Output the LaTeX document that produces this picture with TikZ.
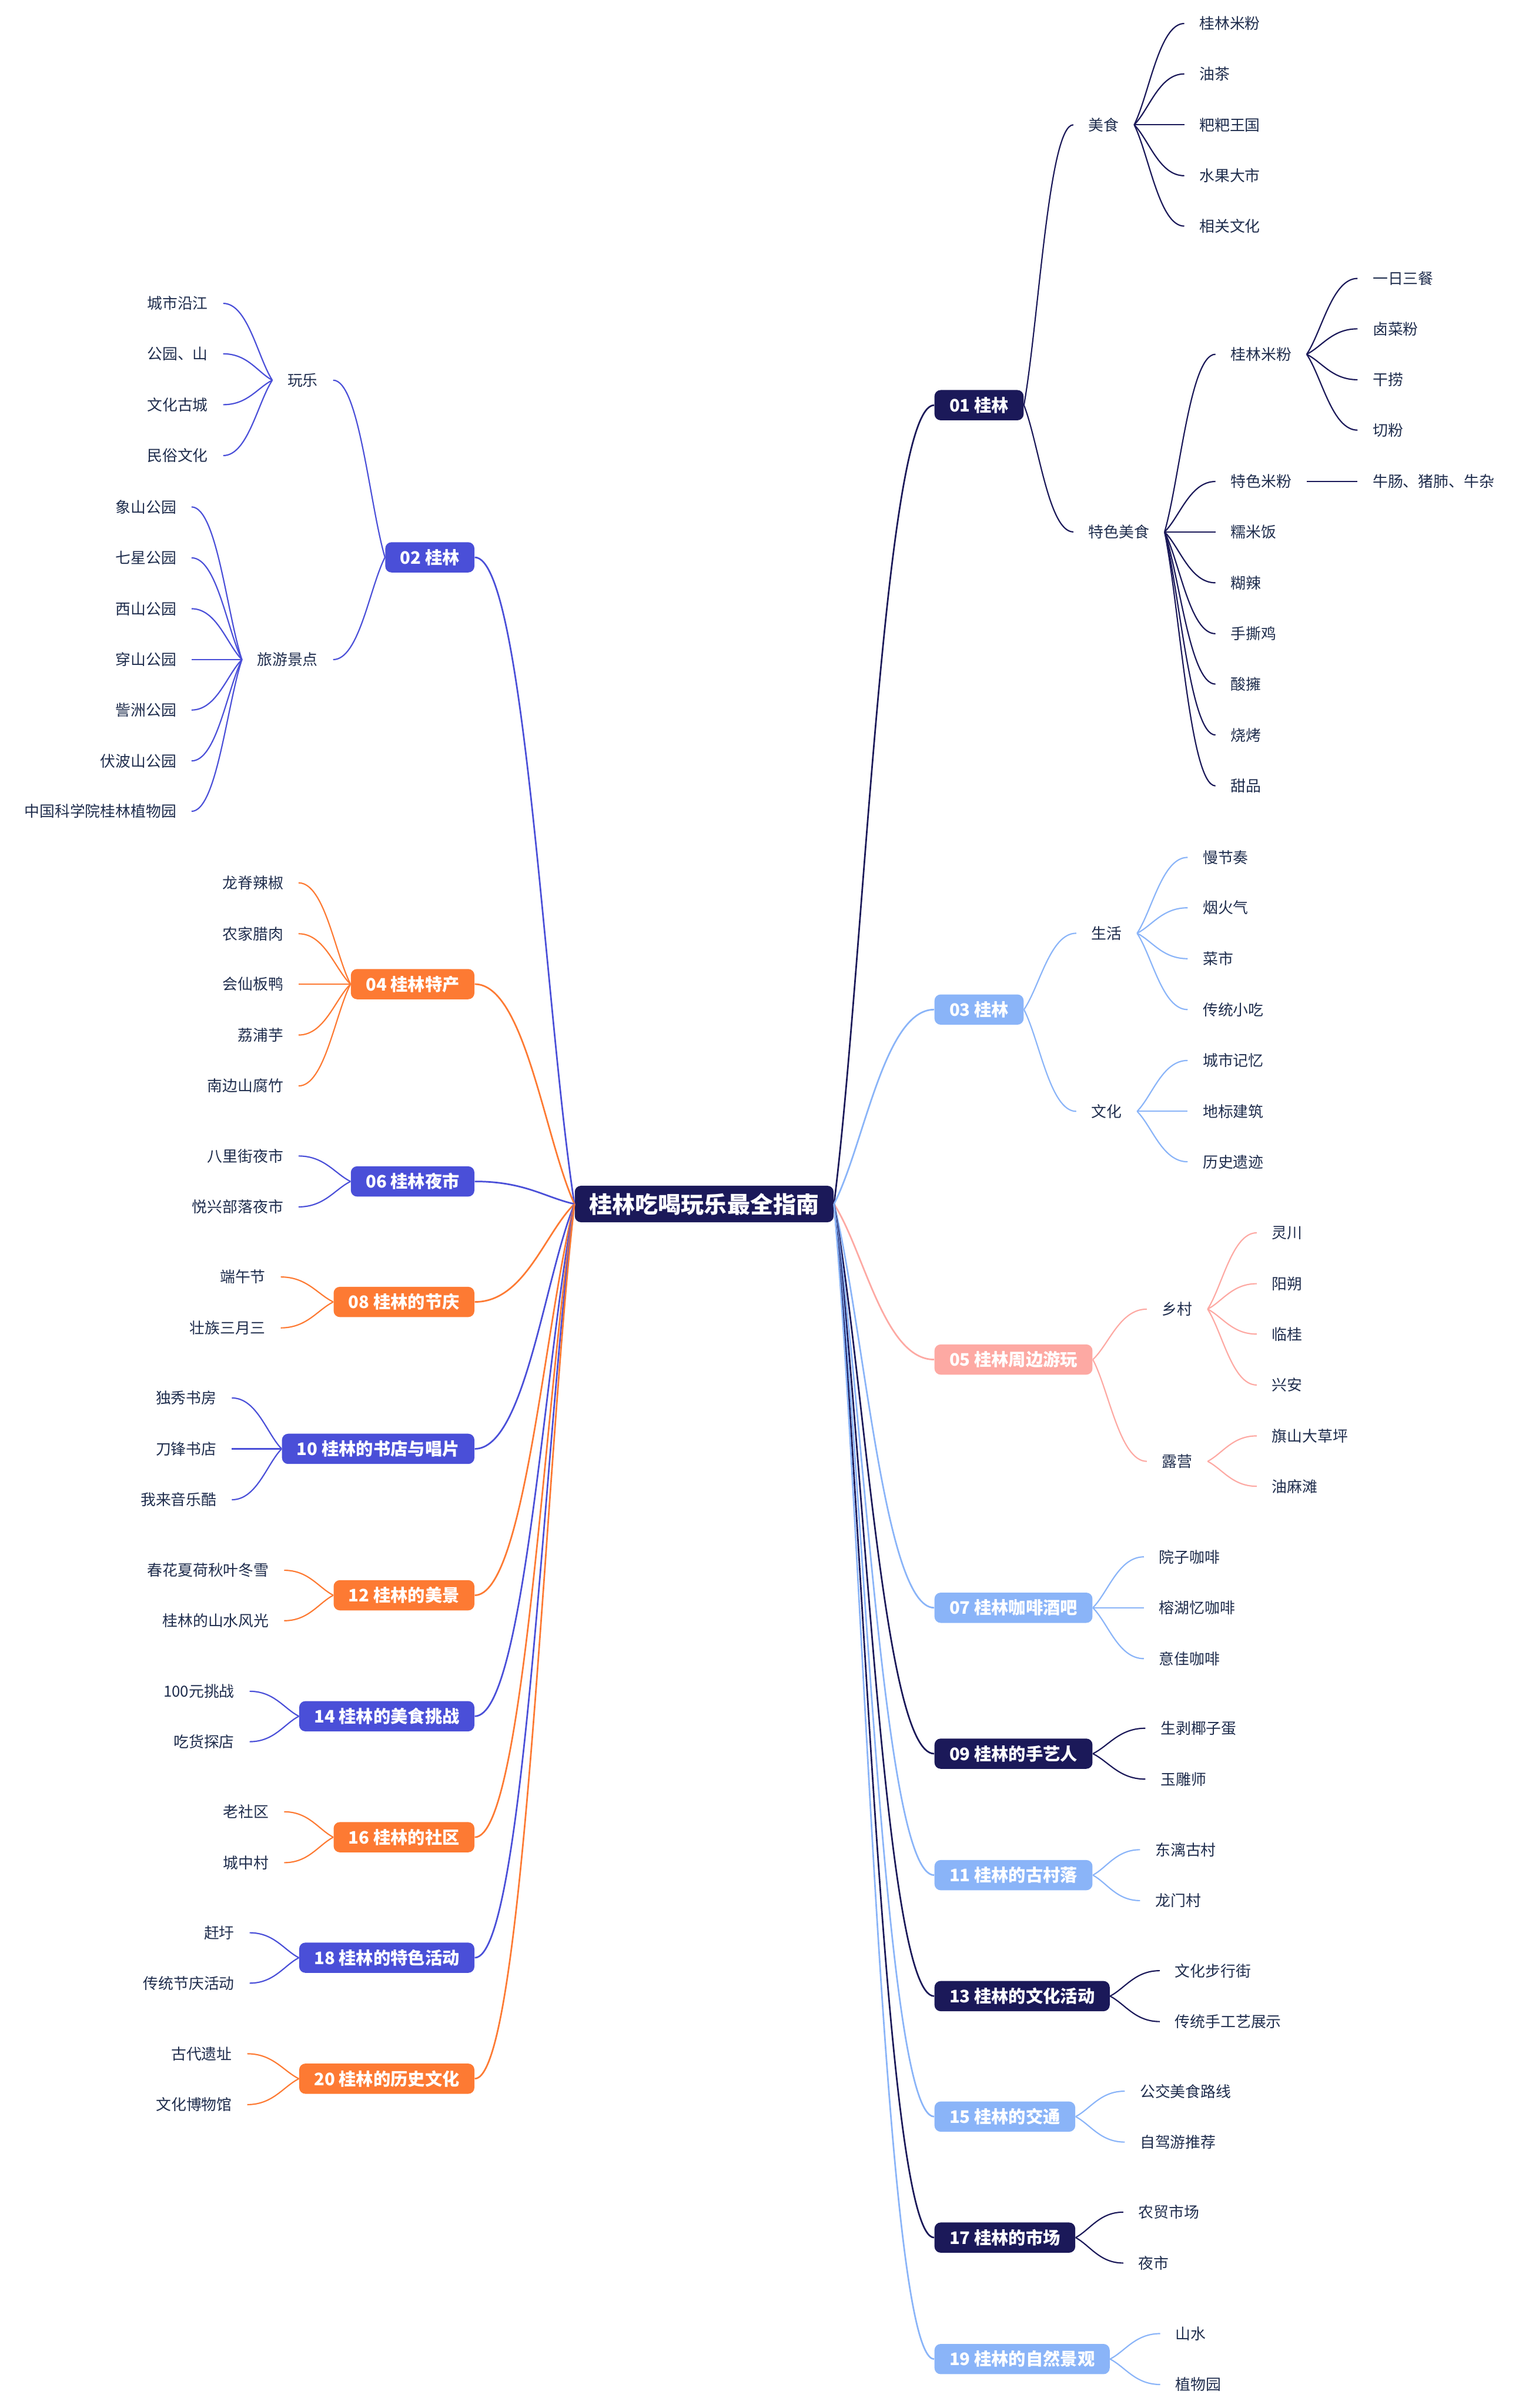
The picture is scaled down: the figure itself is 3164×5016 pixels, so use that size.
\documentclass[tikz,border=0pt]{standalone}
\usepackage{fontspec}
\setmainfont{Noto Sans CJK SC}
\usetikzlibrary{calc}
\definecolor{navy}{HTML}{1B1959}
\definecolor{royal}{HTML}{4A4FD8}
\definecolor{sky}{HTML}{8AB4F8}
\definecolor{salmon}{HTML}{FDA9A3}
\definecolor{tangerine}{HTML}{FD7A33}
\definecolor{ink}{HTML}{1F2D4D}
\tikzset{
    branch link/.style = {draw, line width=0.75pt, to path={let \p1 = (\tikztostart), \p2 = (\tikztotarget) in
        .. controls ({\x1+0.3*(\x2-\x1)}, {\y1+0.3*(\y2-\y1)}) and ({\x1+0.5*(\x2-\x1)}, \y2) .. (\tikztotarget)}},
    main link/.style = {branch link, line width=0.95pt},
}
\tikzset{
    central topic/.style = {rounded corners=0.13cm, fill=navy, text=white, font=\fontsize{13.6}{16}\selectfont\bfseries, minimum width=5.39cm, minimum height=0.76cm},
    topic/.style = {rounded corners=0.13cm, fill=#1, text=white, font=\fontsize{10.2}{12}\selectfont\bfseries, inner xsep=0.31cm, minimum height=0.63cm},
    leaf/.style = {text=ink, font=\fontsize{9}{11}\selectfont, inner xsep=0.31cm, inner ysep=0.04cm},
}

\begin{document}
\begin{tikzpicture}[x=0.01cm, y=-0.01cm]
    \useasboundingbox (0, 0) rectangle (3164, 5016);
    \node[central topic] (root) at (1467, 2508) {桂林吃喝玩乐最全指南};

    % right side
    \node[topic=navy, anchor=west] (t01) at (1946, 844) {01 桂林};
    \node[leaf, anchor=west] (t01a) at (2236, 260) {美食};
    \node[leaf, anchor=west] (t01a1) at (2467, 49) {桂林米粉};
    \node[leaf, anchor=west] (t01a2) at (2467, 154) {油茶};
    \node[leaf, anchor=west] (t01a3) at (2467, 260) {粑粑王国};
    \node[leaf, anchor=west] (t01a4) at (2467, 366) {水果大市};
    \node[leaf, anchor=west] (t01a5) at (2467, 471) {相关文化};
    \node[leaf, anchor=west] (t01b) at (2236, 1108) {特色美食};
    \node[leaf, anchor=west] (t01b1) at (2532, 738) {桂林米粉};
    \node[leaf, anchor=west] (t01b2) at (2532, 1003) {特色米粉};
    \node[leaf, anchor=west] (t01b3) at (2532, 1108) {糯米饭};
    \node[leaf, anchor=west] (t01b4) at (2532, 1214) {糊辣};
    \node[leaf, anchor=west] (t01b5) at (2532, 1320) {手撕鸡};
    \node[leaf, anchor=west] (t01b6) at (2532, 1425) {酸擁};
    \node[leaf, anchor=west] (t01b7) at (2532, 1531) {烧烤};
    \node[leaf, anchor=west] (t01b8) at (2532, 1637) {甜品};
    \node[leaf, anchor=west] (t01b1a) at (2828, 580) {一日三餐};
    \node[leaf, anchor=west] (t01b1b) at (2828, 685) {卤菜粉};
    \node[leaf, anchor=west] (t01b1c) at (2828, 791) {干捞};
    \node[leaf, anchor=west] (t01b1d) at (2828, 896) {切粉};
    \node[leaf, anchor=west] (t01b2a) at (2828, 1003) {牛肠、猪肺、牛杂};

    \node[topic=sky, anchor=west] (t03) at (1946, 2103) {03 桂林};
    \node[leaf, anchor=west] (t03a) at (2242, 1944) {生活};
    \node[leaf, anchor=west] (t03a1) at (2474, 1786) {慢节奏};
    \node[leaf, anchor=west] (t03a2) at (2474, 1891) {烟火气};
    \node[leaf, anchor=west] (t03a3) at (2474, 1997) {菜市};
    \node[leaf, anchor=west] (t03a4) at (2474, 2103) {传统小吃};
    \node[leaf, anchor=west] (t03b) at (2242, 2315) {文化};
    \node[leaf, anchor=west] (t03b1) at (2474, 2209) {城市记忆};
    \node[leaf, anchor=west] (t03b2) at (2474, 2315) {地标建筑};
    \node[leaf, anchor=west] (t03b3) at (2474, 2420) {历史遗迹};

    \node[topic=salmon, anchor=west] (t05) at (1946, 2832) {05 桂林周边游玩};
    \node[leaf, anchor=west] (t05a) at (2389, 2727) {乡村};
    \node[leaf, anchor=west] (t05a1) at (2618, 2568) {灵川};
    \node[leaf, anchor=west] (t05a2) at (2618, 2674) {阳朔};
    \node[leaf, anchor=west] (t05a3) at (2618, 2779) {临桂};
    \node[leaf, anchor=west] (t05a4) at (2618, 2885) {兴安};
    \node[leaf, anchor=west] (t05b) at (2389, 3044) {露营};
    \node[leaf, anchor=west] (t05b1) at (2618, 2991) {旗山大草坪};
    \node[leaf, anchor=west] (t05b2) at (2618, 3096) {油麻滩};

    \node[topic=sky, anchor=west] (t07) at (1946, 3349) {07 桂林咖啡酒吧};
    \node[leaf, anchor=west] (t07a) at (2383, 3243) {院子咖啡};
    \node[leaf, anchor=west] (t07b) at (2383, 3349) {榕湖忆咖啡};
    \node[leaf, anchor=west] (t07c) at (2383, 3455) {意佳咖啡};

    \node[topic=navy, anchor=west] (t09) at (1946, 3653) {09 桂林的手艺人};
    \node[leaf, anchor=west] (t09a) at (2386, 3600) {生剥椰子蛋};
    \node[leaf, anchor=west] (t09b) at (2386, 3706) {玉雕师};

    \node[topic=sky, anchor=west] (t11) at (1946, 3906) {11 桂林的古村落};
    \node[leaf, anchor=west] (t11a) at (2375, 3853) {东漓古村};
    \node[leaf, anchor=west] (t11b) at (2375, 3959) {龙门村};

    \node[topic=navy, anchor=west] (t13) at (1946, 4158) {13 桂林的文化活动};
    \node[leaf, anchor=west] (t13a) at (2416, 4105) {文化步行街};
    \node[leaf, anchor=west] (t13b) at (2416, 4211) {传统手工艺展示};

    \node[topic=sky, anchor=west] (t15) at (1946, 4409) {15 桂林的交通};
    \node[leaf, anchor=west] (t15a) at (2343, 4356) {公交美食路线};
    \node[leaf, anchor=west] (t15b) at (2343, 4462) {自驾游推荐};

    \node[topic=navy, anchor=west] (t17) at (1946, 4661) {17 桂林的市场};
    \node[leaf, anchor=west] (t17a) at (2340, 4608) {农贸市场};
    \node[leaf, anchor=west] (t17b) at (2340, 4714) {夜市};

    \node[topic=sky, anchor=west] (t19) at (1946, 4914) {19 桂林的自然景观};
    \node[leaf, anchor=west] (t19a) at (2417, 4861) {山水};
    \node[leaf, anchor=west] (t19b) at (2417, 4967) {植物园};

    % left side
    \node[topic=royal, anchor=east] (t02) at (989, 1161) {02 桂林};
    \node[leaf, anchor=east] (t02a) at (694, 792) {玩乐};
    \node[leaf, anchor=east] (t02a1) at (465, 632) {城市沿江};
    \node[leaf, anchor=east] (t02a2) at (465, 737) {公园、山};
    \node[leaf, anchor=east] (t02a3) at (465, 843) {文化古城};
    \node[leaf, anchor=east] (t02a4) at (465, 949) {民俗文化};
    \node[leaf, anchor=east] (t02b) at (694, 1374) {旅游景点};
    \node[leaf, anchor=east] (t02b1) at (399, 1056) {象山公园};
    \node[leaf, anchor=east] (t02b2) at (399, 1162) {七星公园};
    \node[leaf, anchor=east] (t02b3) at (399, 1268) {西山公园};
    \node[leaf, anchor=east] (t02b4) at (399, 1374) {穿山公园};
    \node[leaf, anchor=east] (t02b5) at (399, 1479) {訾洲公园};
    \node[leaf, anchor=east] (t02b6) at (399, 1585) {伏波山公园};
    \node[leaf, anchor=east] (t02b7) at (399, 1690) {中国科学院桂林植物园};

    \node[topic=tangerine, anchor=east] (t04) at (989, 2050) {04 桂林特产};
    \node[leaf, anchor=east] (t04a) at (622, 1839) {龙脊辣椒};
    \node[leaf, anchor=east] (t04b) at (622, 1945) {农家腊肉};
    \node[leaf, anchor=east] (t04c) at (622, 2050) {会仙板鸭};
    \node[leaf, anchor=east] (t04d) at (622, 2156) {荔浦芋};
    \node[leaf, anchor=east] (t04e) at (622, 2262) {南边山腐竹};

    \node[topic=royal, anchor=east] (t06) at (989, 2461) {06 桂林夜市};
    \node[leaf, anchor=east] (t06a) at (622, 2408) {八里街夜市};
    \node[leaf, anchor=east] (t06b) at (622, 2514) {悦兴部落夜市};

    \node[topic=tangerine, anchor=east] (t08) at (989, 2712) {08 桂林的节庆};
    \node[leaf, anchor=east] (t08a) at (585, 2660) {端午节};
    \node[leaf, anchor=east] (t08b) at (585, 2766) {壮族三月三};

    \node[topic=royal, anchor=east] (t10) at (989, 3018) {10 桂林的书店与唱片};
    \node[leaf, anchor=east] (t10a) at (483, 2912) {独秀书房};
    \node[leaf, anchor=east] (t10b) at (483, 3018) {刀锋书店};
    \node[leaf, anchor=east] (t10c) at (483, 3124) {我来音乐酷};

    \node[topic=tangerine, anchor=east] (t12) at (989, 3323) {12 桂林的美景};
    \node[leaf, anchor=east] (t12a) at (592, 3271) {春花夏荷秋叶冬雪};
    \node[leaf, anchor=east] (t12b) at (592, 3376) {桂林的山水风光};

    \node[topic=royal, anchor=east] (t14) at (989, 3575) {14 桂林的美食挑战};
    \node[leaf, anchor=east] (t14a) at (520, 3523) {100元挑战};
    \node[leaf, anchor=east] (t14b) at (520, 3628) {吃货探店};

    \node[topic=tangerine, anchor=east] (t16) at (989, 3827) {16 桂林的社区};
    \node[leaf, anchor=east] (t16a) at (592, 3774) {老社区};
    \node[leaf, anchor=east] (t16b) at (592, 3880) {城中村};

    \node[topic=royal, anchor=east] (t18) at (989, 4078) {18 桂林的特色活动};
    \node[leaf, anchor=east] (t18a) at (520, 4026) {赶圩};
    \node[leaf, anchor=east] (t18b) at (520, 4131) {传统节庆活动};

    \node[topic=tangerine, anchor=east] (t20) at (989, 4330) {20 桂林的历史文化};
    \node[leaf, anchor=east] (t20a) at (515, 4278) {古代遗址};
    \node[leaf, anchor=east] (t20b) at (515, 4384) {文化博物馆};

    % links from the centre
    \draw[main link, navy] (root.east) to (t01.west);
    \draw[main link, sky] (root.east) to (t03.west);
    \draw[main link, salmon] (root.east) to (t05.west);
    \draw[main link, sky] (root.east) to (t07.west);
    \draw[main link, navy] (root.east) to (t09.west);
    \draw[main link, sky] (root.east) to (t11.west);
    \draw[main link, navy] (root.east) to (t13.west);
    \draw[main link, sky] (root.east) to (t15.west);
    \draw[main link, navy] (root.east) to (t17.west);
    \draw[main link, sky] (root.east) to (t19.west);
    \draw[main link, royal] (root.west) to (t02.east);
    \draw[main link, tangerine] (root.west) to (t04.east);
    \draw[main link, royal] (root.west) to (t06.east);
    \draw[main link, tangerine] (root.west) to (t08.east);
    \draw[main link, royal] (root.west) to (t10.east);
    \draw[main link, tangerine] (root.west) to (t12.east);
    \draw[main link, royal] (root.west) to (t14.east);
    \draw[main link, tangerine] (root.west) to (t16.east);
    \draw[main link, royal] (root.west) to (t18.east);
    \draw[main link, tangerine] (root.west) to (t20.east);

    % right branches
    \draw[branch link, navy] (t01.east) to (t01a.west);
    \draw[branch link, navy] (t01a.east) to (t01a1.west);
    \draw[branch link, navy] (t01a.east) to (t01a2.west);
    \draw[branch link, navy] (t01a.east) to (t01a3.west);
    \draw[branch link, navy] (t01a.east) to (t01a4.west);
    \draw[branch link, navy] (t01a.east) to (t01a5.west);
    \draw[branch link, navy] (t01.east) to (t01b.west);
    \draw[branch link, navy] (t01b.east) to (t01b1.west);
    \draw[branch link, navy] (t01b.east) to (t01b2.west);
    \draw[branch link, navy] (t01b.east) to (t01b3.west);
    \draw[branch link, navy] (t01b.east) to (t01b4.west);
    \draw[branch link, navy] (t01b.east) to (t01b5.west);
    \draw[branch link, navy] (t01b.east) to (t01b6.west);
    \draw[branch link, navy] (t01b.east) to (t01b7.west);
    \draw[branch link, navy] (t01b.east) to (t01b8.west);
    \draw[branch link, navy] (t01b1.east) to (t01b1a.west);
    \draw[branch link, navy] (t01b1.east) to (t01b1b.west);
    \draw[branch link, navy] (t01b1.east) to (t01b1c.west);
    \draw[branch link, navy] (t01b1.east) to (t01b1d.west);
    \draw[branch link, navy] (t01b2.east) to (t01b2a.west);

    \draw[branch link, sky] (t03.east) to (t03a.west);
    \draw[branch link, sky] (t03a.east) to (t03a1.west);
    \draw[branch link, sky] (t03a.east) to (t03a2.west);
    \draw[branch link, sky] (t03a.east) to (t03a3.west);
    \draw[branch link, sky] (t03a.east) to (t03a4.west);
    \draw[branch link, sky] (t03.east) to (t03b.west);
    \draw[branch link, sky] (t03b.east) to (t03b1.west);
    \draw[branch link, sky] (t03b.east) to (t03b2.west);
    \draw[branch link, sky] (t03b.east) to (t03b3.west);

    \draw[branch link, salmon] (t05.east) to (t05a.west);
    \draw[branch link, salmon] (t05a.east) to (t05a1.west);
    \draw[branch link, salmon] (t05a.east) to (t05a2.west);
    \draw[branch link, salmon] (t05a.east) to (t05a3.west);
    \draw[branch link, salmon] (t05a.east) to (t05a4.west);
    \draw[branch link, salmon] (t05.east) to (t05b.west);
    \draw[branch link, salmon] (t05b.east) to (t05b1.west);
    \draw[branch link, salmon] (t05b.east) to (t05b2.west);

    \draw[branch link, sky] (t07.east) to (t07a.west);
    \draw[branch link, sky] (t07.east) to (t07b.west);
    \draw[branch link, sky] (t07.east) to (t07c.west);
    \draw[branch link, navy] (t09.east) to (t09a.west);
    \draw[branch link, navy] (t09.east) to (t09b.west);
    \draw[branch link, sky] (t11.east) to (t11a.west);
    \draw[branch link, sky] (t11.east) to (t11b.west);
    \draw[branch link, navy] (t13.east) to (t13a.west);
    \draw[branch link, navy] (t13.east) to (t13b.west);
    \draw[branch link, sky] (t15.east) to (t15a.west);
    \draw[branch link, sky] (t15.east) to (t15b.west);
    \draw[branch link, navy] (t17.east) to (t17a.west);
    \draw[branch link, navy] (t17.east) to (t17b.west);
    \draw[branch link, sky] (t19.east) to (t19a.west);
    \draw[branch link, sky] (t19.east) to (t19b.west);

    % left branches
    \draw[branch link, royal] (t02.west) to (t02a.east);
    \draw[branch link, royal] (t02a.west) to (t02a1.east);
    \draw[branch link, royal] (t02a.west) to (t02a2.east);
    \draw[branch link, royal] (t02a.west) to (t02a3.east);
    \draw[branch link, royal] (t02a.west) to (t02a4.east);
    \draw[branch link, royal] (t02.west) to (t02b.east);
    \draw[branch link, royal] (t02b.west) to (t02b1.east);
    \draw[branch link, royal] (t02b.west) to (t02b2.east);
    \draw[branch link, royal] (t02b.west) to (t02b3.east);
    \draw[branch link, royal] (t02b.west) to (t02b4.east);
    \draw[branch link, royal] (t02b.west) to (t02b5.east);
    \draw[branch link, royal] (t02b.west) to (t02b6.east);
    \draw[branch link, royal] (t02b.west) to (t02b7.east);

    \draw[branch link, tangerine] (t04.west) to (t04a.east);
    \draw[branch link, tangerine] (t04.west) to (t04b.east);
    \draw[branch link, tangerine] (t04.west) to (t04c.east);
    \draw[branch link, tangerine] (t04.west) to (t04d.east);
    \draw[branch link, tangerine] (t04.west) to (t04e.east);
    \draw[branch link, royal] (t06.west) to (t06a.east);
    \draw[branch link, royal] (t06.west) to (t06b.east);
    \draw[branch link, tangerine] (t08.west) to (t08a.east);
    \draw[branch link, tangerine] (t08.west) to (t08b.east);
    \draw[branch link, royal] (t10.west) to (t10a.east);
    \draw[branch link, royal] (t10.west) to (t10b.east);
    \draw[branch link, royal] (t10.west) to (t10c.east);
    \draw[branch link, tangerine] (t12.west) to (t12a.east);
    \draw[branch link, tangerine] (t12.west) to (t12b.east);
    \draw[branch link, royal] (t14.west) to (t14a.east);
    \draw[branch link, royal] (t14.west) to (t14b.east);
    \draw[branch link, tangerine] (t16.west) to (t16a.east);
    \draw[branch link, tangerine] (t16.west) to (t16b.east);
    \draw[branch link, royal] (t18.west) to (t18a.east);
    \draw[branch link, royal] (t18.west) to (t18b.east);
    \draw[branch link, tangerine] (t20.west) to (t20a.east);
    \draw[branch link, tangerine] (t20.west) to (t20b.east);
\end{tikzpicture}
\end{document}
